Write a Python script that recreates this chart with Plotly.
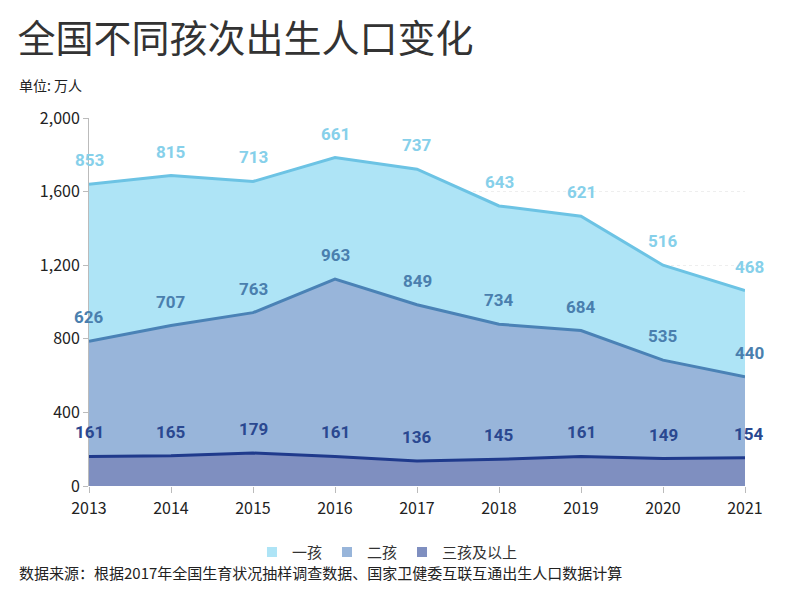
import plotly.graph_objects as go

years = [2013, 2014, 2015, 2016, 2017, 2018, 2019, 2020, 2021]
first_child = [853, 815, 713, 661, 737, 643, 621, 516, 468]
second_child = [626, 707, 763, 963, 849, 734, 684, 535, 440]
third_plus = [161, 165, 179, 161, 136, 145, 161, 149, 154]
y_ticks = [0, 400, 800, 1200, 1600, 2000]

series = [
    ("三孩及以上", third_plus, "rgba(127,143,192,1)", "#1f3a8c", "#2a4890"),
    ("二孩", second_child, "rgba(152,181,218,1)", "#4a82b6", "#4a7fae"),
    ("一孩", first_child, "rgba(174,228,246,1)", "#6cc3e4", "#86d0ea"),
]

fig = go.Figure()
cum = [0] * len(years)
for i, (name, vals, fill, line, lab) in enumerate(series):
    fig.add_trace(go.Scatter(
        x=years, y=vals, name=name, stackgroup="one", mode="lines",
        line=dict(color=line, width=3), fillcolor=fill, showlegend=False,
    ))
    cum = [c + v for c, v in zip(cum, vals)]
    for x, c, v in zip(years, cum, vals):
        fig.add_annotation(x=x, y=c, text=str(v), showarrow=False, yshift=24,
                           xshift=4 if x == 2021 else 0,
                           font=dict(family="Roboto", size=17, color=lab, weight="bold"))

# legend-only square swatches
for i, (name, vals, fill, line, lab) in enumerate(series):
    fig.add_trace(go.Scatter(
        x=[None], y=[None], name=name, mode="markers",
        marker=dict(symbol="square", size=10, color=fill), legendrank=3 - i,
    ))

fig.update_layout(
    width=799, height=594,
    margin=dict(l=89, r=54, t=118, b=108),
    paper_bgcolor="white", plot_bgcolor="white",
    font=dict(family="Noto Sans CJK SC", color="#222"),
    showlegend=True,
    legend=dict(orientation="h", x=0.455, xanchor="center", y=-0.135, yanchor="top",
                font=dict(size=15, color="#333"), traceorder="normal", itemwidth=30),
    title=dict(text="全国不同孩次出生人口变化", x=0.022, xanchor="left", y=0.935, yanchor="middle",
               font=dict(size=38, color="#333")),
)
fig.add_annotation(text="单位: 万人", xref="paper", yref="paper", x=-0.11, xanchor="left",
                   y=1.09, yanchor="middle", showarrow=False,
                   font=dict(size=14, color="#222"))
fig.add_annotation(text="数据来源：根据2017年全国生育状况抽样调查数据、国家卫健委互联互通出生人口数据计算",
                   xref="paper", yref="paper", x=-0.11, xanchor="left", y=-0.235, yanchor="middle",
                   showarrow=False, font=dict(size=15, color="#222"))
fig.update_xaxes(range=[2013, 2021], tickmode="array", tickvals=years,
                 ticks="outside", ticklen=6, tickcolor="#bbb", showgrid=False,
                 showline=False, ticklabelstandoff=2, tickfont=dict(size=16, color="#222"))
fig.update_yaxes(range=[0, 2000], tickmode="array", tickvals=y_ticks, tickformat=",",
                 ticks="outside", ticklen=5, tickcolor="#bbb", showline=True, linecolor="#bbb",
                 linewidth=1, showgrid=True, gridcolor="#eee", griddash="dot", zeroline=False,
                 tickfont=dict(size=16, color="#222"))

fig.write_html("out.html")
